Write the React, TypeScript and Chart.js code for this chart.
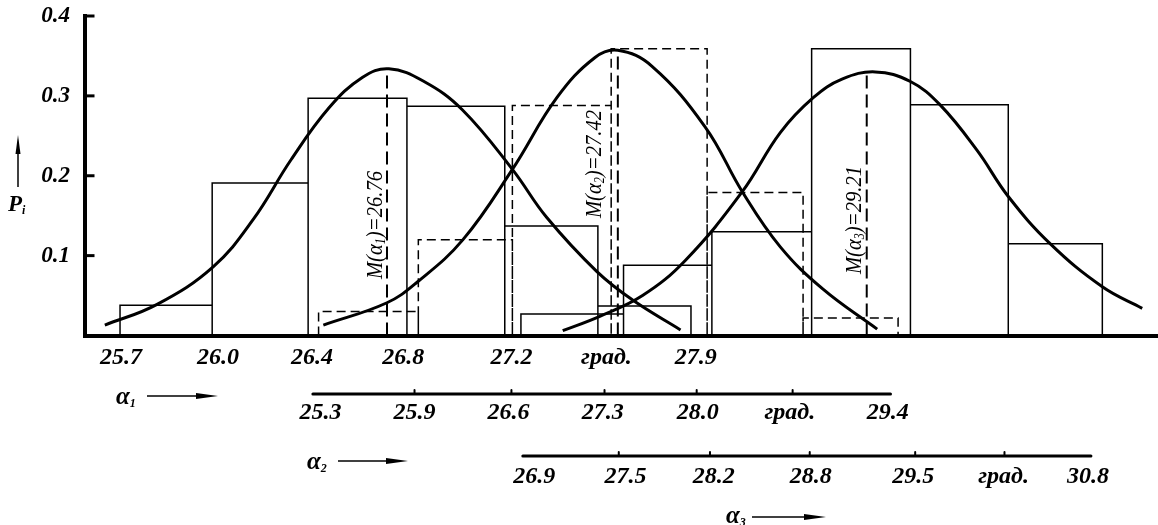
import React, { useEffect, useRef } from 'react';
import { Chart, registerables } from 'chart.js';

Chart.register(...registerables);

// Shared horizontal axis: position measured in class-interval units (one interval = 1)
const xMin = -0.374;
const xMax = 10.926;

// Main axis (α1) tick labels
const a1TickPos = [0.01, 1.03, 2.02, 2.98, 4.12, 5.12, 6.06];
const a1TickLabels = ['25.7', '26.0', '26.4', '26.8', '27.2', 'град.', '27.9'];

// Secondary scale α2
const a2AxisPos = [2.03, 3.1, 4.12, 5.1, 6.07, 7.08, 8.11];
const a2LabelPos = [2.11, 3.1, 4.09, 5.08, 6.08, 7.05, 8.08];
const a2AxisLabels = ['25.3', '25.9', '26.6', '27.3', '28.0', 'град.', '29.4'];

// Secondary scale α3
const a3AxisPos = [4.24, 5.25, 6.21, 7.26, 8.37, 9.31, 10.22];
const a3LabelPos = [4.36, 5.32, 6.25, 7.27, 8.35, 9.3, 10.19];
const a3AxisLabels = ['26.9', '27.5', '28.2', '28.8', '29.5', 'град.', '30.8'];

const yTicks = [0.1, 0.2, 0.3, 0.4];

// Histograms (bin edges on shared axis, relative frequencies P_i)
const a1Edges = [0, 0.97, 1.98, 3.02, 4.05, 5.03, 6.01];
const a1Probs = [0.038, 0.191, 0.297, 0.287, 0.137, 0.037];
const a2Edges = [2.09, 3.14, 4.13, 5.17, 6.18, 7.19, 8.19];
const a2Probs = [0.03, 0.12, 0.288, 0.359, 0.179, 0.022];
const a3Edges = [4.22, 5.3, 6.23, 7.28, 8.32, 9.35, 10.34];
const a3Probs = [0.027, 0.088, 0.13, 0.359, 0.289, 0.115];

// Fitted curves
const curve1X = [-0.16, 0.39, 0.98, 1.4, 1.8, 2.2, 2.55, 2.83, 3.2, 3.6, 4.13, 4.49, 5.02, 5.4, 5.9];
const curve1Y = [0.013, 0.039, 0.086, 0.145, 0.22, 0.285, 0.323, 0.334, 0.318, 0.283, 0.208, 0.148, 0.08, 0.044, 0.007];
const curve2X = [2.14, 2.81, 3.13, 3.61, 4.13, 4.6, 5.0, 5.24, 5.6, 6.16, 6.55, 6.95, 7.4, 7.97];
const curve2Y = [0.013, 0.041, 0.067, 0.12, 0.208, 0.298, 0.348, 0.357, 0.337, 0.261, 0.18, 0.111, 0.058, 0.008];
const curve3X = [4.66, 5.05, 5.5, 5.95, 6.55, 6.95, 7.3, 7.6, 7.95, 8.32, 8.63, 9.02, 9.35, 9.79, 10.34, 10.76];
const curve3Y = [0.006, 0.024, 0.05, 0.094, 0.18, 0.254, 0.298, 0.321, 0.33, 0.318, 0.289, 0.232, 0.174, 0.115, 0.061, 0.034];

// Means
const meanPos = [2.81, 5.24, 7.86];
const meanTop = [0.334, 0.357, 0.329];
const meanValues = ['26.76', '27.42', '29.21'];
const meanSubs = ['1', '2', '3'];

const FAMILY = "'Liberation Serif', 'Times New Roman', serif";
const fnt = (size: number, bold = true, italic = true) =>
  `${italic ? 'italic ' : ''}${bold ? 'bold ' : ''}${size}px ${FAMILY}`;

type Seg = { t: string; size: number; dy?: number; bold?: boolean };

function drawRich(ctx: CanvasRenderingContext2D, segs: Seg[], x: number, y: number, center: boolean) {
  ctx.textAlign = 'left';
  ctx.textBaseline = 'alphabetic';
  let w = 0;
  for (const s of segs) {
    ctx.font = fnt(s.size, s.bold !== false);
    w += ctx.measureText(s.t).width;
  }
  let cx = center ? x - w / 2 : x;
  for (const s of segs) {
    ctx.font = fnt(s.size, s.bold !== false);
    ctx.fillText(s.t, cx, y + (s.dy || 0));
    cx += ctx.measureText(s.t).width;
  }
}

function hArrow(ctx: CanvasRenderingContext2D, x1: number, x2: number, y: number) {
  ctx.beginPath();
  ctx.lineWidth = 1.5;
  ctx.moveTo(x1, y);
  ctx.lineTo(x2 - 10, y);
  ctx.stroke();
  ctx.beginPath();
  ctx.moveTo(x2, y);
  ctx.lineTo(x2 - 22, y - 3);
  ctx.lineTo(x2 - 22, y + 3);
  ctx.closePath();
  ctx.fill();
}

function histPoints(edges: number[], probs: number[]) {
  const pts: { x: number; y: number }[] = [];
  for (let i = 0; i < probs.length; i++) {
    pts.push({ x: edges[i], y: 0 }, { x: edges[i], y: probs[i] }, { x: edges[i + 1], y: probs[i] }, { x: edges[i + 1], y: 0 });
  }
  return pts;
}

const zip = (xs: number[], ys: number[]) => xs.map((x, i) => ({ x, y: ys[i] }));

const decorPlugin = {
  id: 'decor',
  afterDraw(chart: any) {
    const ctx: CanvasRenderingContext2D = chart.ctx;
    const xs = chart.scales.x;
    const ys = chart.scales.y;
    const area = chart.chartArea;
    ctx.save();
    ctx.fillStyle = '#000';
    ctx.strokeStyle = '#000';

    // inward y ticks
    ctx.lineWidth = 3;
    for (const v of yTicks) {
      const py = ys.getPixelForValue(v);
      ctx.beginPath();
      ctx.moveTo(area.left, py);
      ctx.lineTo(area.left + 10, py);
      ctx.stroke();
    }

    // P_i with arrow
    ctx.lineWidth = 1.5;
    ctx.beginPath();
    ctx.moveTo(18, 187);
    ctx.lineTo(18, 146);
    ctx.stroke();
    ctx.beginPath();
    ctx.moveTo(18, 135);
    ctx.lineTo(15.5, 154);
    ctx.lineTo(20.5, 154);
    ctx.closePath();
    ctx.fill();
    drawRich(ctx, [{ t: 'P', size: 23 }, { t: 'i', size: 12, dy: 3 }], 8, 211, false);

    // secondary axes
    const drawAxis = (pos: number[], lpos: number[], labels: string[], y: number, ly: number) => {
      ctx.lineCap = 'round';
      ctx.lineWidth = 3;
      ctx.beginPath();
      ctx.moveTo(xs.getPixelForValue(pos[0]), y);
      ctx.lineTo(xs.getPixelForValue(pos[pos.length - 1]), y);
      ctx.stroke();
      ctx.lineWidth = 2;
      for (let i = 1; i < pos.length - 1; i++) {
        const px = xs.getPixelForValue(pos[i]);
        ctx.beginPath();
        ctx.moveTo(px, y);
        ctx.lineTo(px, y - 4);
        ctx.stroke();
      }
      ctx.lineCap = 'butt';
      ctx.font = fnt(24);
      ctx.textAlign = 'center';
      ctx.textBaseline = 'middle';
      labels.forEach((l, i) => ctx.fillText(l, xs.getPixelForValue(lpos[i]), ly));
    };
    drawAxis(a2AxisPos, a2LabelPos, a2AxisLabels, 394, 413);
    drawAxis(a3AxisPos, a3LabelPos, a3AxisLabels, 456, 477);

    // α labels with arrows
    drawRich(ctx, [{ t: 'α', size: 25 }, { t: '1', size: 12, dy: 3 }], 116, 404, false);
    hArrow(ctx, 147, 218, 396);
    drawRich(ctx, [{ t: 'α', size: 25 }, { t: '2', size: 12, dy: 3 }], 307, 469, false);
    hArrow(ctx, 338, 408, 461);
    drawRich(ctx, [{ t: 'α', size: 25 }, { t: '3', size: 12, dy: 3 }], 726, 523, false);
    hArrow(ctx, 752, 826, 517);

    // rotated mean labels
    const offs = [-13, -25, -14];
    const cys = [225, 164, 220];
    meanPos.forEach((m, i) => {
      const cx = xs.getPixelForValue(m) + offs[i];
      ctx.save();
      ctx.translate(cx, cys[i]);
      ctx.rotate(-Math.PI / 2);
      ctx.scale(0.86, 1);
      drawRich(
        ctx,
        [
          { t: 'M(α', size: 24, bold: false },
          { t: meanSubs[i], size: 14, dy: 3, bold: false },
          { t: ')=' + meanValues[i], size: 24, bold: false },
        ],
        0,
        8,
        true
      );
      ctx.restore();
    });
    ctx.restore();
  },
};

export default function App() {
  const ref = useRef<HTMLCanvasElement>(null);
  useEffect(() => {
    const solid = { borderColor: '#000', borderWidth: 1.5, pointRadius: 0, showLine: true, fill: false, tension: 0 };
    const dashed = { ...solid, borderDash: [9, 5] };
    const curve = { borderColor: '#000', borderWidth: 3, pointRadius: 0, showLine: true, fill: false, tension: 0.4 };
    const meanLine = { borderColor: '#000', borderWidth: 2, pointRadius: 0, showLine: true, fill: false, borderDash: [13, 6] };
    const chart = new Chart(ref.current as HTMLCanvasElement, {
      type: 'scatter',
      data: {
        datasets: [
          { label: 'α1', data: histPoints(a1Edges, a1Probs), ...solid },
          { label: 'α2', data: histPoints(a2Edges, a2Probs), ...dashed },
          { label: 'α3', data: histPoints(a3Edges, a3Probs), ...solid },
          { label: 'f1', data: zip(curve1X, curve1Y), ...curve },
          { label: 'f2', data: zip(curve2X, curve2Y), ...curve },
          { label: 'f3', data: zip(curve3X, curve3Y), ...curve },
          ...meanPos.map((m, i) => ({
            label: 'M' + (i + 1),
            data: [{ x: m, y: 0 }, { x: m, y: meanTop[i] }],
            ...meanLine,
          })),
        ] as any,
      },
      options: {
        animation: false,
        responsive: false,
        devicePixelRatio: 1,
        events: [],
        layout: { padding: { top: 16, left: 0, right: 0, bottom: 0 } },
        plugins: { legend: { display: false }, tooltip: { enabled: false } },
        scales: {
          x: {
            type: 'linear',
            min: xMin,
            max: xMax,
            position: 'bottom',
            grid: { display: false },
            border: { display: true, color: '#000', width: 4 },
            afterBuildTicks: (s: any) => {
              s.ticks = a1TickPos.map((v) => ({ value: v }));
            },
            afterFit: (s: any) => {
              s.height = 189.5;
              s.paddingLeft = 0;
              s.paddingRight = 0;
            },
            ticks: {
              autoSkip: false,
              maxRotation: 0,
              minRotation: 0,
              padding: 0,
              color: '#000',
              font: { family: FAMILY, size: 24, style: 'italic', weight: 'bold' },
              callback: (_v: any, i: number) => a1TickLabels[i],
            },
          },
          y: {
            type: 'linear',
            min: 0,
            max: 0.4,
            grid: { display: false },
            border: { display: true, color: '#000', width: 4 },
            afterBuildTicks: (s: any) => {
              s.ticks = yTicks.map((v) => ({ value: v }));
            },
            afterFit: (s: any) => {
              s.width = 84.5;
              s.paddingTop = 0;
              s.paddingBottom = 0;
            },
            ticks: {
              padding: 6.5,
              color: '#000',
              font: { family: FAMILY, size: 23, style: 'italic', weight: 'bold' },
              callback: (v: any) => Number(v).toFixed(1),
            },
          },
        },
      } as any,
      plugins: [decorPlugin],
    });
    return () => chart.destroy();
  }, []);
  return (
    <div style={{ position: 'fixed', left: 0, top: 0, width: 1158, height: 525, background: '#fff' }}>
      <canvas ref={ref} width={1158} height={525} style={{ display: 'block', width: 1158, height: 525 }} />
    </div>
  );
}
